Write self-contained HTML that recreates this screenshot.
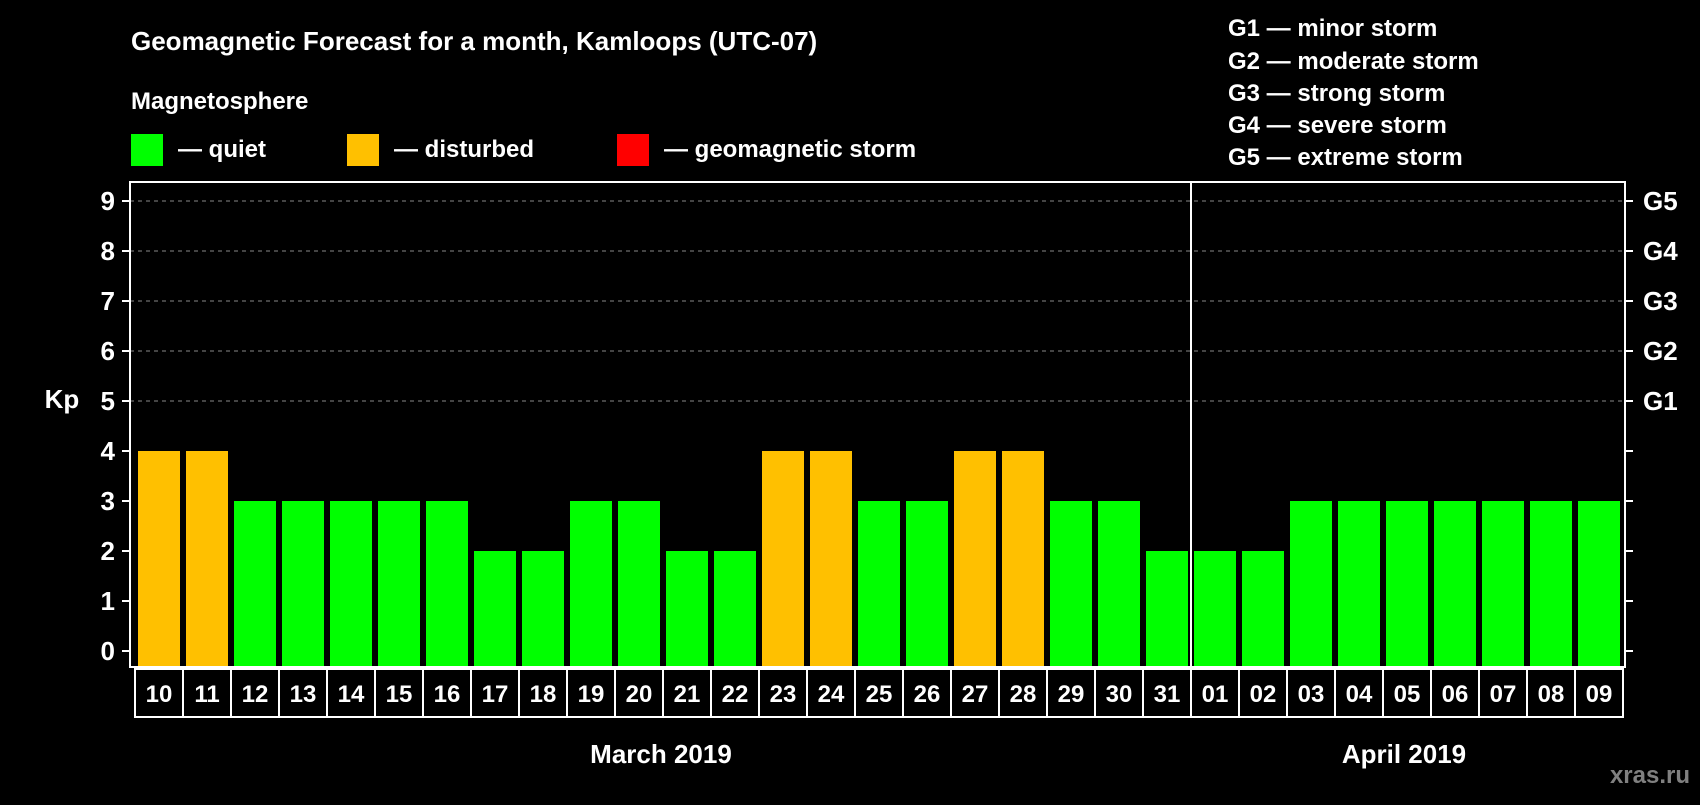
<!DOCTYPE html>
<html><head><meta charset="utf-8"><style>
body{margin:0;background:#000;width:1700px;height:800px;overflow:hidden}
svg{font-family:"Liberation Sans",sans-serif;font-weight:bold}
</style></head><body>
<svg id="c" width="1700" height="800">
<text x="131" y="50" fill="#fff" font-size="26">Geomagnetic Forecast for a month, Kamloops (UTC-07)</text>
<text x="131" y="109" fill="#fff" font-size="24">Magnetosphere</text>
<g><rect x="131" y="134" width="32" height="32" fill="#00ff00"/><text x="178" y="157" fill="#fff" font-size="24">— quiet</text></g>
<g><rect x="347" y="134" width="32" height="32" fill="#ffc000"/><text x="394" y="157" fill="#fff" font-size="24">— disturbed</text></g>
<g><rect x="617" y="134" width="32" height="32" fill="#ff0000"/><text x="664" y="157" fill="#fff" font-size="24">— geomagnetic storm</text></g>
<g fill="#fff" font-size="24">
<text x="1228" y="36">G1 — minor storm</text><text x="1228" y="69">G2 — moderate storm</text><text x="1228" y="101">G3 — strong storm</text><text x="1228" y="133">G4 — severe storm</text><text x="1228" y="165">G5 — extreme storm</text>
</g>
<text x="62" y="408" fill="#fff" font-size="26" text-anchor="middle">Kp</text>
<g id="grid"></g><g id="bars"></g><g id="axes"></g>
<text x="661" y="763" fill="#fff" font-size="26" text-anchor="middle">March 2019</text>
<text x="1404" y="763" fill="#fff" font-size="26" text-anchor="middle">April 2019</text>
<text x="1690" y="783" fill="#808080" font-size="24" text-anchor="end">xras.ru</text>
</svg>
<script>
const days=["10","11","12","13","14","15","16","17","18","19","20","21","22","23","24","25","26","27","28","29","30","31","01","02","03","04","05","06","07","08","09"];
const kp=[4,4,3,3,3,3,3,2,2,3,3,2,2,4,4,3,3,4,4,3,3,2,2,2,3,3,3,3,3,3,3];
const yTicks=[0,1,2,3,4,5,6,7,8,9];
const gLabels=["G1","G2","G3","G4","G5"];
const NS="http://www.w3.org/2000/svg";
const L=130,R=1625,T=182,B=667,c0=135,pitch=48;
const y=v=>651-v*50;
const x=i=>c0+i*pitch;
function mk(t,a,p){const e=document.createElementNS(NS,t);for(const k in a)e.setAttribute(k,a[k]);p.appendChild(e);return e;}
const grid=document.getElementById('grid'),bars=document.getElementById('bars'),axes=document.getElementById('axes');
yTicks.forEach(v=>{
  if(v>=5){const g=mk('line',{x1:L,x2:R,y1:y(v),y2:y(v),stroke:'#888','stroke-dasharray':'4,4','stroke-width':1},grid);
  
  }
  mk('line',{x1:L-8,x2:L,y1:y(v),y2:y(v),stroke:'#fff','stroke-width':2},axes);
  mk('line',{x1:R,x2:R+8,y1:y(v),y2:y(v),stroke:'#fff','stroke-width':2},axes);
  const t=mk('text',{x:115,y:y(v)+9,fill:'#fff','font-size':26,'text-anchor':'end'},axes);t.textContent=v;
  
  
});
gLabels.forEach((g,i)=>{const t=mk('text',{x:1643,y:y(5+i)+9,fill:'#fff','font-size':26},axes);t.textContent=g;
  
  });
kp.forEach((v,i)=>{
  const r=mk('rect',{x:x(i)+3,y:y(v),width:42,height:y(0)-y(v)+16,fill:v>=5?'#ff0000':(v>=4?'#ffc000':'#00ff00')},bars);
  
  
});
mk('rect',{x:L,y:T,width:R-L,height:B-T,fill:'none',stroke:'#fff','stroke-width':2},axes);
mk('rect',{x:c0,y:669,width:pitch*days.length,height:48,fill:'#000',stroke:'#fff','stroke-width':2},axes);
days.forEach((d,i)=>{
  if(i>0)mk('line',{x1:x(i),x2:x(i),y1:669,y2:717,stroke:'#fff','stroke-width':2},axes);
  const t=mk('text',{x:x(i)+24,y:702,fill:'#fff','font-size':24,'text-anchor':'middle'},axes);t.textContent=d;
  
  
});
const sep=days.indexOf("01");
mk('line',{x1:x(sep),x2:x(sep),y1:T,y2:717,stroke:'#fff','stroke-width':2},axes);
</script>
</body></html>
